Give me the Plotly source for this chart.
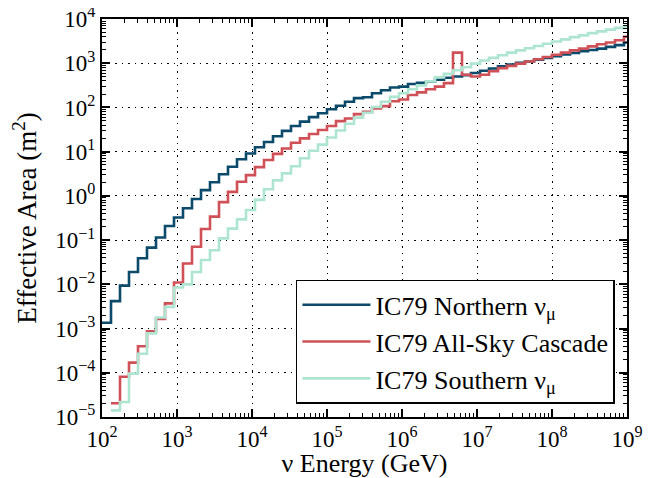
import plotly.graph_objects as go

# log10(E/GeV) bin edges (0.12 decade bins)
log_energy_edges = [2.00, 2.12, 2.24, 2.36, 2.48, 2.60, 2.72, 2.84, 2.96, 3.08,
                    3.20, 3.32, 3.44, 3.56, 3.68, 3.80, 3.92, 4.04, 4.16, 4.28,
                    4.40, 4.52, 4.64, 4.76, 4.88, 5.00, 5.12, 5.24, 5.36, 5.48,
                    5.60, 5.72, 5.84, 5.96, 6.08, 6.20, 6.32, 6.44, 6.56, 6.68,
                    6.80, 6.92, 7.04, 7.16, 7.28, 7.40, 7.52, 7.64, 7.76, 7.88,
                    8.00, 8.12, 8.24, 8.36, 8.48, 8.60, 8.72, 8.84, 8.96, 9.08]

# log10 effective area (m^2) per bin; None = below plotted range
northern_log_area = [-2.87, -2.38, -2.03, -1.72, -1.41, -1.17, -0.94, -0.68, -0.49, -0.28,
                     -0.07, 0.13, 0.31, 0.49, 0.66, 0.83, 0.96, 1.10, 1.22, 1.35,
                     1.47, 1.58, 1.68, 1.78, 1.87, 1.96, 2.04, 2.13, 2.21, 2.23,
                     2.32, 2.39, 2.45, 2.47, 2.53, 2.56, 2.58, 2.63, 2.67, 2.70,
                     2.73, 2.78, 2.83, 2.88, 2.93, 2.97, 3.01, 3.04, 3.08, 3.12,
                     3.16, 3.20, 3.23, 3.27, 3.30, 3.33, 3.37, 3.41, 3.47]
cascade_log_area = [None, -4.69, -4.09, -3.77, -3.40, -3.06, -2.78, -2.43, -1.96, -1.53,
                    -1.15, -0.75, -0.47, -0.14, 0.09, 0.32, 0.47, 0.65, 0.81, 0.95,
                    1.07, 1.20, 1.30, 1.40, 1.49, 1.58, 1.69, 1.75, 1.85, 1.90,
                    1.98, 2.03, 2.14, 2.18, 2.28, 2.34, 2.41, 2.47, 2.55, 3.24,
                    2.74, 2.70, 2.74, 2.82, 2.89, 2.94, 2.99, 3.04, 3.09, 3.14,
                    3.19, 3.24, 3.29, 3.33, 3.38, 3.43, 3.47, 3.52, 3.60]
southern_log_area = [None, -4.85, -4.66, -4.02, -3.57, -3.11, -2.75, -2.51, -2.07, -2.00,
                     -1.72, -1.45, -1.23, -0.96, -0.74, -0.53, -0.32, -0.09, 0.15, 0.35,
                     0.51, 0.67, 0.85, 1.02, 1.16, 1.32, 1.48, 1.63, 1.77, 1.88,
                     2.01, 2.13, 2.24, 2.32, 2.41, 2.50, 2.59, 2.68, 2.76, 2.84,
                     2.91, 2.99, 3.06, 3.12, 3.18, 3.24, 3.29, 3.34, 3.39, 3.44,
                     3.49, 3.54, 3.59, 3.63, 3.68, 3.72, 3.76, 3.80, 3.84]

x_tick_exponents = [2, 3, 4, 5, 6, 7, 8, 9]
y_tick_exponents = [-5, -4, -3, -2, -1, 0, 1, 2, 3, 4]

series = [
    ("IC79 Northern ν<sub>μ</sub>", northern_log_area, "#0b4a6b"),
    ("IC79 All-Sky Cascade", cascade_log_area, "#cf5056"),
    ("IC79 Southern ν<sub>μ</sub>", southern_log_area, "#ade5d1"),
]


def step_xy(edges, logvals):
    xs, ys = [], []
    for i, v in enumerate(logvals):
        if v is None:
            continue
        xs.append(10 ** edges[i])
        ys.append(10 ** v)
    last = max(i for i, v in enumerate(logvals) if v is not None)
    xs.append(10 ** edges[last + 1])
    ys.append(10 ** logvals[last])
    return xs, ys


def pow_label(e):
    return "10<sup>%s</sup>" % (str(e).replace("-", "−"))


def minor_vals(exps):
    return [m * 10.0 ** e for e in range(exps[0] - 1, exps[-1] + 1) for m in range(2, 10)]


fig = go.Figure()
for idx, (name, vals, color) in enumerate(series):
    x, y = step_xy(log_energy_edges, vals)
    fig.add_trace(go.Scatter(x=x, y=y, mode="lines", name=name, legendgroup="g%d" % idx,
                             line=dict(color=color, width=2.6, shape="hv")))

font_family = "Liberation Serif, serif"


def axis(exps, title, standoff, tsize, automargin):
    return dict(
        type="log", range=[exps[0], exps[-1]], automargin=automargin,
        showline=True, linecolor="black", linewidth=2, mirror="allticks",
        ticks="inside", ticklen=8, tickwidth=1.5, tickcolor="black",
        tickmode="array", tickvals=[10.0 ** e for e in exps],
        ticktext=[pow_label(e) for e in exps], ticklabeloverflow="allow",
        showgrid=True, gridcolor="black", griddash="1.5px,5px", gridwidth=1.2,
        zeroline=False,
        minor=dict(ticks="inside", ticklen=4, tickwidth=1, tickcolor="black",
                   showgrid=False, tickmode="array", tickvals=minor_vals(exps)),
        tickfont=dict(family=font_family, size=23, color="black"),
        title=dict(text=title, standoff=standoff,
                   font=dict(family=font_family, size=tsize, color="black")),
    )


# page body has an 8px default margin, so the figure is sized/offset to compensate
fig.update_layout(
    width=649, height=470,
    margin=dict(l=94, r=30, t=11, b=61, autoexpand=False),
    paper_bgcolor="white", plot_bgcolor="white",
    font=dict(family=font_family, size=24, color="black"),
    xaxis=axis(x_tick_exponents, "ν Energy (GeV)", 6, 26, True),
    yaxis=axis(y_tick_exponents, "Effective Area (m<sup>2</sup>)", 13, 27, False),
    legend=dict(x=0.977, y=0.033, xanchor="right", yanchor="bottom",
                bgcolor="white", bordercolor="black", borderwidth=1.5,
                font=dict(family=font_family, size=26),
                tracegroupgap=0, itemwidth=68),
    showlegend=True,
)

fig.write_html("out.html")
